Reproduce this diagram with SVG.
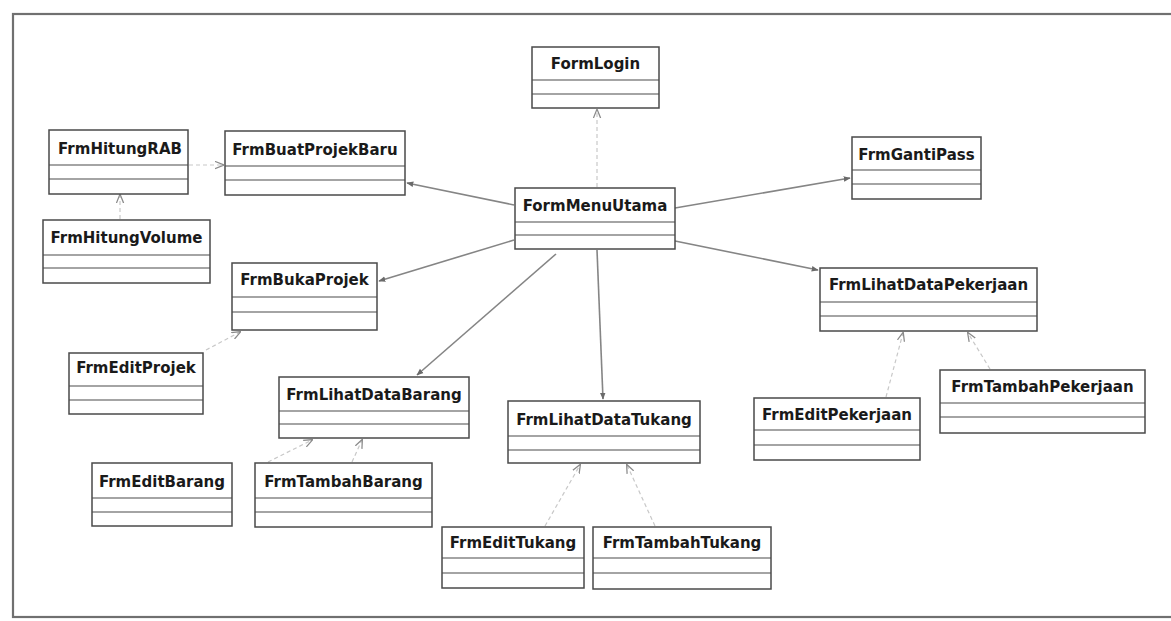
<svg xmlns="http://www.w3.org/2000/svg" width="1171" height="621" viewBox="0 0 1171 621">
<style>
.box{fill:#ffffff;stroke:#4a4a4a;stroke-width:1.5}
.div{stroke:#4a4a4a;stroke-width:1.2}
.t{font-family:"DejaVu Sans",sans-serif;font-weight:bold;font-size:15px;fill:#1a1a1a;text-anchor:middle}
.main{stroke:#858585;stroke-width:1.6;fill:none;marker-end:url(#ah)}
.dep{stroke:#c8c8c8;stroke-width:1.2;fill:none;stroke-dasharray:4 3;marker-end:url(#oh)}
</style>
<defs>
<marker id="ah" viewBox="0 0 10 10" refX="9" refY="5" markerWidth="7" markerHeight="7" orient="auto" markerUnits="userSpaceOnUse">
<path d="M0,1 L10,5 L0,9 Z" fill="#6a6a6a"/>
</marker>
<marker id="oh" viewBox="0 0 10 10" refX="9" refY="5" markerWidth="9" markerHeight="9" orient="auto" markerUnits="userSpaceOnUse">
<path d="M0,1 L10,5 L0,9" fill="none" stroke="#8a8a8a" stroke-width="1.4"/>
</marker>
</defs>
<rect width="1171" height="621" fill="#ffffff"/>
<rect x="13" y="14" width="1172" height="603" fill="none" stroke="#707070" stroke-width="2.2"/>

<g id="connectors">
<path class="main" d="M514 205 L407 183"/>
<path class="main" d="M675 208 L850 178"/>
<path class="main" d="M514 240 L379 281"/>
<path class="main" d="M556 254 L417 375"/>
<path class="main" d="M597 250 L603 399"/>
<path class="main" d="M675 241 L818 270"/>
<path class="dep" d="M597 187 L597 110"/>
<path class="dep" d="M120 219 L120 195"/>
<path class="dep" d="M189 165 L223 165"/>
<path class="dep" d="M206 350 L240 332"/>
<path class="dep" d="M268 462 L312 440"/>
<path class="dep" d="M352 462 L362 440"/>
<path class="dep" d="M545 526 L580 465"/>
<path class="dep" d="M655 526 L627 465"/>
<path class="dep" d="M886 397 L903 333"/>
<path class="dep" d="M990 369 L968 333"/>
</g>

<g id="FormLogin">
<rect class="box" x="532" y="47" width="127" height="61"/>
<line class="div" x1="532" y1="80" x2="659" y2="80"/>
<line class="div" x1="532" y1="94" x2="659" y2="94"/>
<text class="t" x="595.5" y="69">FormLogin</text>
</g>
<g id="FrmHitungRAB">
<rect class="box" x="49" y="130" width="139" height="64"/>
<line class="div" x1="49" y1="165" x2="188" y2="165"/>
<line class="div" x1="49" y1="179" x2="188" y2="179"/>
<text class="t" x="120" y="154">FrmHitungRAB</text>
</g>
<g id="FrmBuatProjekBaru">
<rect class="box" x="225" y="131" width="180" height="64"/>
<line class="div" x1="225" y1="166" x2="405" y2="166"/>
<line class="div" x1="225" y1="180" x2="405" y2="180"/>
<text class="t" x="315" y="155">FrmBuatProjekBaru</text>
</g>
<g id="FormMenuUtama">
<rect class="box" x="515" y="188" width="160" height="61"/>
<line class="div" x1="515" y1="222" x2="675" y2="222"/>
<line class="div" x1="515" y1="235" x2="675" y2="235"/>
<text class="t" x="595" y="211">FormMenuUtama</text>
</g>
<g id="FrmGantiPass">
<rect class="box" x="852" y="137" width="129" height="62"/>
<line class="div" x1="852" y1="170" x2="981" y2="170"/>
<line class="div" x1="852" y1="184" x2="981" y2="184"/>
<text class="t" x="916.5" y="160">FrmGantiPass</text>
</g>
<g id="FrmHitungVolume">
<rect class="box" x="43" y="220" width="167" height="63"/>
<line class="div" x1="43" y1="255" x2="210" y2="255"/>
<line class="div" x1="43" y1="268" x2="210" y2="268"/>
<text class="t" x="126.5" y="243">FrmHitungVolume</text>
</g>
<g id="FrmBukaProjek">
<rect class="box" x="232" y="263" width="145" height="67"/>
<line class="div" x1="232" y1="297" x2="377" y2="297"/>
<line class="div" x1="232" y1="312" x2="377" y2="312"/>
<text class="t" x="304.5" y="285">FrmBukaProjek</text>
</g>
<g id="FrmEditProjek">
<rect class="box" x="69" y="353" width="134" height="61"/>
<line class="div" x1="69" y1="386" x2="203" y2="386"/>
<line class="div" x1="69" y1="400" x2="203" y2="400"/>
<text class="t" x="136" y="373">FrmEditProjek</text>
</g>
<g id="FrmLihatDataBarang">
<rect class="box" x="279" y="377" width="190" height="61"/>
<line class="div" x1="279" y1="411" x2="469" y2="411"/>
<line class="div" x1="279" y1="424" x2="469" y2="424"/>
<text class="t" x="374" y="400">FrmLihatDataBarang</text>
</g>
<g id="FrmLihatDataTukang">
<rect class="box" x="508" y="401" width="192" height="62"/>
<line class="div" x1="508" y1="436" x2="700" y2="436"/>
<line class="div" x1="508" y1="450" x2="700" y2="450"/>
<text class="t" x="604" y="425">FrmLihatDataTukang</text>
</g>
<g id="FrmLihatDataPekerjaan">
<rect class="box" x="820" y="268" width="217" height="63"/>
<line class="div" x1="820" y1="302" x2="1037" y2="302"/>
<line class="div" x1="820" y1="316" x2="1037" y2="316"/>
<text class="t" x="928.5" y="290">FrmLihatDataPekerjaan</text>
</g>
<g id="FrmEditPekerjaan">
<rect class="box" x="754" y="398" width="166" height="62"/>
<line class="div" x1="754" y1="430" x2="920" y2="430"/>
<line class="div" x1="754" y1="445" x2="920" y2="445"/>
<text class="t" x="837" y="420">FrmEditPekerjaan</text>
</g>
<g id="FrmTambahPekerjaan">
<rect class="box" x="940" y="370" width="205" height="63"/>
<line class="div" x1="940" y1="403" x2="1145" y2="403"/>
<line class="div" x1="940" y1="417" x2="1145" y2="417"/>
<text class="t" x="1042.5" y="392">FrmTambahPekerjaan</text>
</g>
<g id="FrmEditBarang">
<rect class="box" x="92" y="463" width="140" height="63"/>
<line class="div" x1="92" y1="498" x2="232" y2="498"/>
<line class="div" x1="92" y1="512" x2="232" y2="512"/>
<text class="t" x="162" y="487">FrmEditBarang</text>
</g>
<g id="FrmTambahBarang">
<rect class="box" x="255" y="463" width="177" height="64"/>
<line class="div" x1="255" y1="498" x2="432" y2="498"/>
<line class="div" x1="255" y1="512" x2="432" y2="512"/>
<text class="t" x="343.5" y="487">FrmTambahBarang</text>
</g>
<g id="FrmEditTukang">
<rect class="box" x="442" y="527" width="142" height="61"/>
<line class="div" x1="442" y1="558" x2="584" y2="558"/>
<line class="div" x1="442" y1="573" x2="584" y2="573"/>
<text class="t" x="513" y="548">FrmEditTukang</text>
</g>
<g id="FrmTambahTukang">
<rect class="box" x="593" y="527" width="178" height="62"/>
<line class="div" x1="593" y1="558" x2="771" y2="558"/>
<line class="div" x1="593" y1="573" x2="771" y2="573"/>
<text class="t" x="682" y="548">FrmTambahTukang</text>
</g>
</svg>
